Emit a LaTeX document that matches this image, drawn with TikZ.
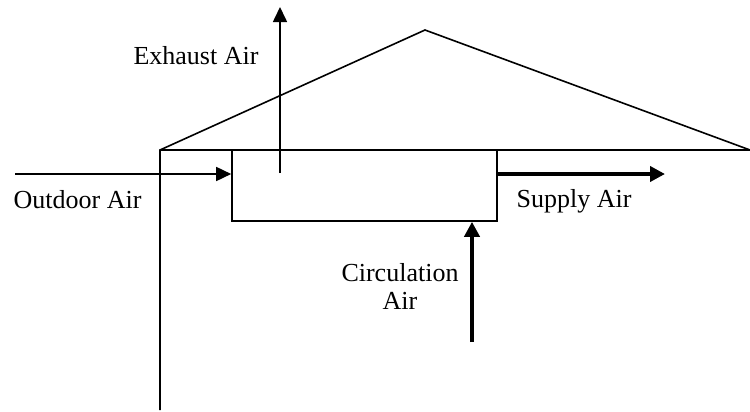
\documentclass[tikz,border=0pt]{standalone}
\usepackage{fontspec}
\setmainfont{Liberation Serif}
\usetikzlibrary{arrows.meta}

\tikzstyle{wall}=[draw,line width=0.8pt]
\tikzstyle{unit}=[draw,line width=0.8pt,minimum width=132.5pt,minimum height=35.5pt,inner sep=0pt]
\tikzstyle{flow}=[draw,line width=0.8pt,-{Triangle[length=7.5pt,width=7pt]}]
\tikzstyle{bigflow}=[draw,line width=2.4pt,-{Triangle[length=7.5pt,width=7.5pt]}]
\tikzstyle{label}=[font=\fontsize{13}{14}\selectfont,inner sep=0pt,align=center,anchor=base]
\newcommand{\pxunit}{0.5pt}

\begin{document}
\begin{tikzpicture}[x=\pxunit, y=-\pxunit]
    \useasboundingbox (0,0) rectangle (750,412);
    % house outline
    \coordinate (wallbot) at (160,410);
    \coordinate (eave) at (160,150);
    \coordinate (apex) at (425,30);
    \coordinate (ridge) at (750,150);
    \path[wall] (wallbot) -- (eave) -- (apex) -- (ridge) -- (eave);
    % air handling unit
    \node[unit] (unit) at (364.5,185.5) {};
    % end points of the air flows
    \coordinate (exhbot) at (280,173);
    \coordinate (exhtop) at (280,7);
    \coordinate (outin) at (15,174);
    \coordinate (supout) at (665,174);
    \coordinate (circin) at (472,342);
    \path[flow] (exhbot) -- (exhtop);
    \path[flow] (outin) -- (outin -| unit.west);
    \path[bigflow] (unit.east |- supout) -- (supout);
    \path[bigflow] (circin) -- (circin |- unit.south);
    % labels
    \foreach \pos/\name/\text in {{(196,64)/exhlabel/Exhaust Air}, {(77.5,208)/outlabel/Outdoor Air}, {(574,207)/suplabel/Supply Air}, {(400,309)/circlabel/Circulation\\Air}}
        \node[label] (\name) at \pos {\text};
\end{tikzpicture}
\end{document}
